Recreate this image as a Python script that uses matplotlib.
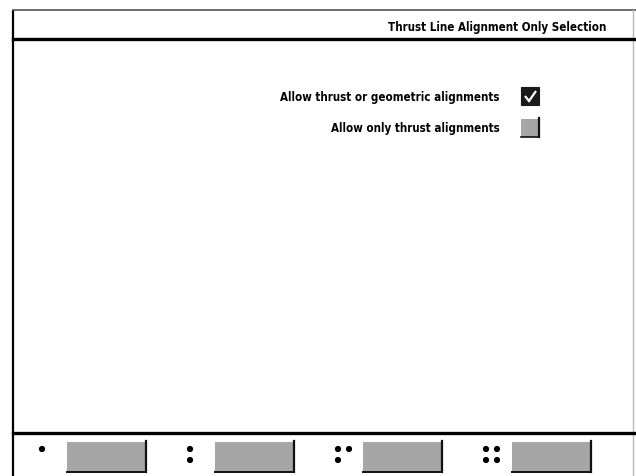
import matplotlib
matplotlib.use("Agg")
import matplotlib.pyplot as plt
from matplotlib.patches import Rectangle, Circle

W, H = 636, 477
title = "Thrust Line Alignment Only Selection"
option_labels = ["Allow thrust or geometric alignments", "Allow only thrust alignments"]
option_checked = [True, False]
button_dots = [1, 2, 3, 4]

fig = plt.figure(figsize=(W / 100, H / 100), dpi=100)
ax = fig.add_axes([0, 0, 1, 1])
ax.set_xlim(0, W)
ax.set_ylim(H, 0)
ax.axis("off")
fig.patch.set_facecolor("white")

font = dict(family="DejaVu Sans", fontweight="bold", fontstretch="condensed")

# frame lines
ax.plot([13, 13], [11, H], color="black", lw=1.6, solid_capstyle="butt")
ax.plot([13, W], [11, 11], color="#555555", lw=1.2)
ax.plot([633, 633], [11, H], color="#bbbbbb", lw=1.0)
ax.plot([13, W], [40, 40], color="black", lw=2.4)
ax.plot([13, W], [434, 434], color="black", lw=2.4)

# title
ax.text(606, 27, title, ha="right", va="center", fontsize=8.3, **font)

# options
opt_y = [97, 129]
for label, checked, yc in zip(option_labels, option_checked, opt_y):
    ax.text(500, yc, label, ha="right", va="center", fontsize=8.3, **font)
    x0, y0, s = 521, yc - 9, 18
    if checked:
        ax.add_patch(Rectangle((x0, y0), s, s, facecolor="#1a1a1a", edgecolor="#1a1a1a", lw=0.8))
        ax.plot([x0 + 4, x0 + 8, x0 + 15], [y0 + 9, y0 + 14, y0 + 4], color="white", lw=1.6,
                solid_capstyle="butt", solid_joinstyle="miter")
    else:
        ax.add_patch(Rectangle((x0, y0), s, s, facecolor="#a6a6a6", edgecolor="none"))
        ax.plot([x0 + s, x0 + s], [y0 - 1, y0 + s], color="#111111", lw=1.6)
        ax.plot([x0, x0 + s], [y0 + s, y0 + s], color="#111111", lw=1.2)

# bottom buttons
btn_x = [67, 215, 363, 512]
dot_x = [42, 190, 338, 486]
bw, by0, by1 = 79, 443, 473
dot_offsets = {
    1: [(0, 0)],
    2: [(0, 0), (0, 11)],
    3: [(0, 0), (11, 0), (0, 11)],
    4: [(0, 0), (11, 0), (0, 11), (11, 11)],
}
for n, bx, dx in zip(button_dots, btn_x, dot_x):
    ax.add_patch(Rectangle((bx, by0), bw, by1 - by0, facecolor="#a6a6a6", edgecolor="none"))
    ax.plot([bx + bw, bx + bw], [by0 - 1, by1], color="#111111", lw=1.6)
    ax.plot([bx, bx + bw], [by1, by1], color="#111111", lw=1.4)
    for ox, oy in dot_offsets[n]:
        ax.add_patch(Circle((dx + ox, 450 + oy), 2.4, color="black"))

fig.savefig("out.png", dpi=100, facecolor="white")
